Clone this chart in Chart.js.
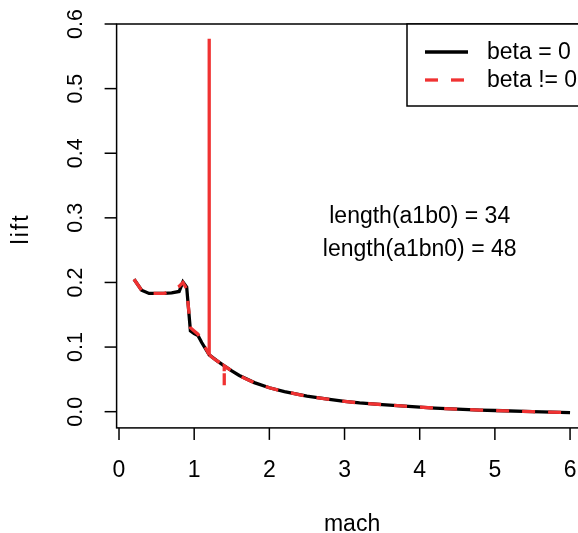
<!DOCTYPE html>
<html lang="en">
<head>
  <meta charset="UTF-8">
  <title>lift vs mach</title>
  <script src="https://cdn.jsdelivr.net/npm/chart.js"></script>
  <style>
    html, body { margin: 0; padding: 0; background: #fff; overflow: hidden; }
    .wrap { width: 578px; height: 533px; overflow: hidden; }
  </style>
</head>
<body>

<div class="wrap">
  <canvas id="liftChart" width="600" height="533"></canvas>
</div>

<script>
  // beta = 0 (34 values)
  const machB0 = [0.2, 0.3, 0.4, 0.5, 0.6, 0.7, 0.8, 0.85, 0.9, 0.95, 1.0, 1.05, 1.1, 1.2, 1.3, 1.4, 1.5, 1.6,
                  1.8, 2.0, 2.2, 2.5, 2.8, 3.0, 3.2, 3.5, 3.8, 4.0, 4.2, 4.5, 4.8, 5.0, 5.5, 6.0];
  const liftB0 = [0.205, 0.188, 0.183, 0.183, 0.183, 0.184, 0.186, 0.201, 0.193, 0.125, 0.121, 0.118, 0.107, 0.088,
                  0.079, 0.071, 0.063, 0.056, 0.045, 0.037, 0.031, 0.024, 0.019, 0.016, 0.0135, 0.011, 0.0085,
                  0.007, 0.0055, 0.004, 0.0025, 0.0018, 0.0, -0.0015];

  // beta != 0 (48 values)
  const machBn0 = [0.2, 0.3, 0.4, 0.5, 0.6, 0.65, 0.7, 0.75, 0.8, 0.85, 0.9, 0.95, 1.0, 1.05, 1.1, 1.15, 1.2, 1.2,
                   1.2, 1.25, 1.3, 1.35, 1.4, 1.4, 1.4, 1.45, 1.5, 1.6, 1.7, 1.8, 1.9, 2.0, 2.2, 2.5, 2.8, 3.0,
                   3.2, 3.5, 3.8, 4.0, 4.2, 4.25, 4.3, 4.5, 4.8, 5.0, 5.5, 6.0];
  const liftBn0 = [0.205, 0.188, 0.183, 0.183, 0.183, 0.185, 0.188, 0.191, 0.194, 0.2, 0.19, 0.13, 0.125, 0.12,
                   0.11, 0.099, 0.088, 0.577, 0.088, 0.083, 0.079, 0.075, 0.071, 0.041, 0.071, 0.067, 0.063,
                   0.056, 0.05, 0.045, 0.041, 0.037, 0.031, 0.024, 0.019, 0.016, 0.0135, 0.011, 0.0085, 0.007,
                   0.0055, 0.001, 0.005, 0.004, 0.0025, 0.0018, 0.0, -0.0015];

  const xTicks = [0, 1, 2, 3, 4, 5, 6];
  const yTicks = [0.0, 0.1, 0.2, 0.3, 0.4, 0.5, 0.6];
  const yTickLabels = ['0.0', '0.1', '0.2', '0.3', '0.4', '0.5', '0.6'];

  const seriesNames = ['beta = 0', 'beta != 0'];
  const notes = ['length(a1b0) = 34', 'length(a1bn0) = 48'];
  const noteX = [4, 4];
  const noteY = [0.3, 0.25];

  const FAMILY = '"Liberation Sans", Arial, sans-serif';
  const FONT = '23px ' + FAMILY;
  const Y_FONT = '21.5px ' + FAMILY;
  const RED = '#f03232';

  const toPoints = (xs, ys) => xs.map((x, i) => ({ x: x, y: ys[i] }));

  // R-style box, ticks, labels, text and legend
  const rAxes = {
    id: 'rAxes',
    afterDraw(chart) {
      const ctx = chart.ctx;
      const a = chart.chartArea;
      const xs = chart.scales.x, ys = chart.scales.y;
      ctx.save();
      ctx.strokeStyle = '#000';
      ctx.fillStyle = '#000';
      ctx.lineWidth = 1.5;
      ctx.strokeRect(a.left, a.top, a.right - a.left, a.bottom - a.top);

      // x ticks
      ctx.font = FONT;
      ctx.textAlign = 'center';
      ctx.textBaseline = 'alphabetic';
      xTicks.forEach(v => {
        const px = xs.getPixelForValue(v);
        ctx.beginPath();
        ctx.moveTo(px, a.bottom);
        ctx.lineTo(px, a.bottom + 12);
        ctx.stroke();
        ctx.fillText(String(v), px, 476.5);
      });
      // y ticks (rotated labels)
      ctx.font = Y_FONT;
      yTicks.forEach((v, i) => {
        const py = ys.getPixelForValue(v);
        ctx.beginPath();
        ctx.moveTo(a.left, py);
        ctx.lineTo(a.left - 12, py);
        ctx.stroke();
        ctx.save();
        ctx.translate(82, py);
        ctx.rotate(-Math.PI / 2);
        ctx.fillText(yTickLabels[i], 0, 0);
        ctx.restore();
      });

      // axis titles
      ctx.font = FONT;
      ctx.fillText('mach', (a.left + a.right) / 2, 531);
      ctx.save();
      ctx.translate(28, (a.top + a.bottom) / 2 + 3);
      ctx.rotate(-Math.PI / 2);
      ctx.letterSpacing = '2px';
      ctx.fillText('lift', 0, 0);
      ctx.restore();

      // annotations
      notes.forEach((t, i) => {
        ctx.fillText(t, xs.getPixelForValue(noteX[i]), ys.getPixelForValue(noteY[i]) + 5.5);
      });

      // legend (topright)
      const lx = 407, ly = a.top, lh = 82;
      ctx.fillStyle = '#fff';
      ctx.fillRect(lx, ly, a.right - lx, lh);
      ctx.strokeRect(lx, ly, a.right - lx, lh);
      ctx.fillStyle = '#000';
      ctx.textAlign = 'left';
      ctx.textBaseline = 'middle';
      const rows = [ly + 28, ly + 56];
      ctx.lineWidth = 3.3;
      ctx.beginPath();
      ctx.moveTo(425, rows[0]);
      ctx.lineTo(468, rows[0]);
      ctx.strokeStyle = '#000';
      ctx.stroke();
      ctx.beginPath();
      ctx.setLineDash([13, 13]);
      ctx.moveTo(425, rows[1]);
      ctx.lineTo(468, rows[1]);
      ctx.strokeStyle = RED;
      ctx.stroke();
      ctx.setLineDash([]);
      ctx.fillText(seriesNames[0], 487, rows[0] + 1);
      ctx.fillText(seriesNames[1], 487, rows[1] + 1);
      ctx.restore();
    }
  };

  new Chart(document.getElementById('liftChart').getContext('2d'), {
    type: 'scatter',
    data: {
      datasets: [
        {
          label: seriesNames[1],
          data: toPoints(machBn0, liftBn0),
          showLine: true,
          borderColor: RED,
          borderWidth: 3.3,
          borderDash: [13, 13],
          borderCapStyle: 'butt',
          pointRadius: 0,
          tension: 0,
          order: 1,
          // the tall retraced spike looks solid in the original
          segment: {
            borderDash: s => (Math.abs(s.p1.y - s.p0.y) > 100 ? [] : [13, 13])
          }
        },
        {
          label: seriesNames[0],
          data: toPoints(machB0, liftB0),
          showLine: true,
          borderColor: '#000',
          borderWidth: 3.3,
          pointRadius: 0,
          tension: 0,
          order: 2
        }
      ]
    },
    options: {
      responsive: false,
      animation: false,
      layout: { padding: { left: 116.6, top: 24, right: 12.5, bottom: 105.1 } },
      plugins: {
        legend: { display: false },
        tooltip: { enabled: false }
      },
      scales: {
        x: { type: 'linear', min: -0.032, max: 6.232, display: false },
        y: { type: 'linear', min: -0.0251, max: 0.6, display: false }
      }
    },
    plugins: [rAxes]
  });
</script>

</body>
</html>
